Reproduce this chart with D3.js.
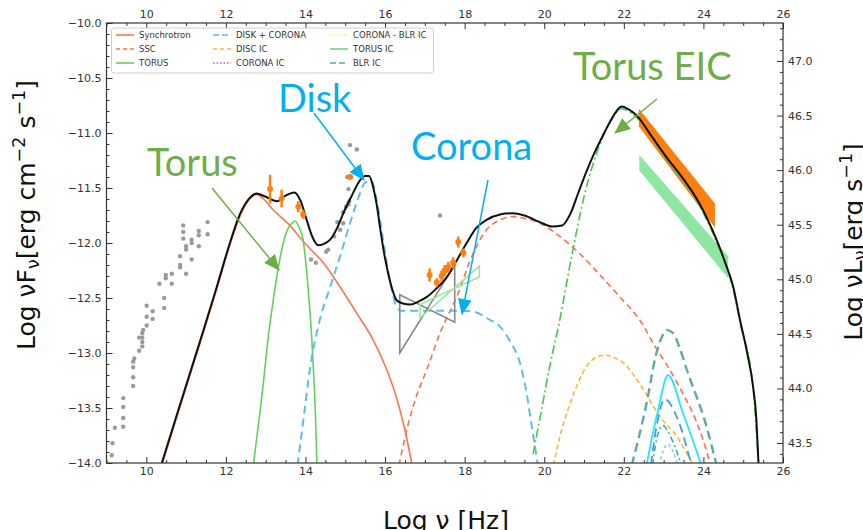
<!DOCTYPE html>
<html>
<head>
<meta charset="utf-8">
<script src="https://cdn.jsdelivr.net/npm/d3@7"></script>
<style>
  body { margin: 0; background: #fff; }
  svg { display: block; }
  text { font-family: "DejaVu Sans", sans-serif; }
</style>
</head>
<body>
<svg id="sed" width="863" height="530"></svg>
<script>
// axis ticks
var xTicks = [10, 12, 14, 16, 18, 20, 22, 24, 26];
var yTicks = [-10, -10.5, -11, -11.5, -12, -12.5, -13, -13.5, -14];
var yRightTicks = [43.5, 44, 44.5, 45, 45.5, 46, 46.5, 47];

// model curves, [log nu, log nuFnu]
var total = [[10.39,-14.0],[10.76,-13.57],[11.1,-13.18],[11.43,-12.8],[11.77,-12.4],[12.1,-12.0],[12.35,-11.74],[12.6,-11.59],[12.77,-11.55],[13.0,-11.58],[13.28,-11.62],[13.5,-11.57],[13.72,-11.54],[13.88,-11.62],[14.03,-11.79],[14.18,-11.95],[14.32,-12.02],[14.45,-12.01],[14.62,-11.97],[14.8,-11.86],[14.95,-11.73],[15.15,-11.58],[15.37,-11.43],[15.5,-11.39],[15.6,-11.39],[15.70,-11.49],[15.79,-11.65],[15.87,-11.85],[15.97,-12.08],[16.08,-12.28],[16.18,-12.42],[16.29,-12.52],[16.45,-12.55],[16.63,-12.56],[16.85,-12.53],[17.05,-12.49],[17.3,-12.41],[17.55,-12.31],[17.8,-12.16],[18.05,-12.0],[18.3,-11.86],[18.55,-11.79],[18.89,-11.74],[19.2,-11.73],[19.5,-11.75],[19.89,-11.81],[20.2,-11.85],[20.45,-11.84],[20.65,-11.74],[20.85,-11.55],[21.05,-11.36],[21.25,-11.19],[21.45,-11.04],[21.65,-10.9],[21.8,-10.81],[21.94,-10.76],[22.1,-10.78],[22.32,-10.84],[22.7,-11.03],[23.07,-11.22],[23.5,-11.42],[23.9,-11.64],[24.33,-11.97],[24.55,-12.18],[24.75,-12.4],[24.92,-12.7],[25.1,-13.0],[25.25,-13.31],[25.33,-13.6],[25.38,-13.97],[25.4,-14.1]];
var synchrotron = [[10.39,-14.02],[10.76,-13.59],[11.1,-13.2],[11.43,-12.82],[11.77,-12.42],[12.1,-12.02],[12.35,-11.76],[12.6,-11.6],[12.77,-11.56],[12.95,-11.6],[13.19,-11.7],[13.4,-11.77],[13.61,-11.84],[13.86,-11.95],[14.03,-12.02],[14.45,-12.18],[14.87,-12.4],[15.29,-12.64],[15.7,-12.88],[16.04,-13.15],[16.3,-13.42],[16.5,-13.7],[16.68,-14.02]];
var ssc = [[16.35,-14.02],[16.6,-13.62],[16.8,-13.38],[17.05,-13.15],[17.38,-12.82],[17.8,-12.49],[18.22,-12.09],[18.55,-11.88],[18.89,-11.79],[19.2,-11.76],[19.55,-11.78],[19.89,-11.82],[20.39,-11.94],[20.9,-12.1],[21.4,-12.29],[21.9,-12.49],[22.4,-12.7],[22.8,-12.95],[23.15,-13.15],[23.5,-13.38],[23.74,-13.55],[24.0,-13.8],[24.18,-14.02]];
var torus = [[12.69,-14.02],[12.8,-13.7],[12.94,-13.28],[13.05,-12.9],[13.19,-12.52],[13.32,-12.22],[13.44,-12.0],[13.56,-11.87],[13.69,-11.81],[13.74,-11.8],[13.84,-11.86],[13.94,-11.97],[14.0,-12.15],[14.07,-12.43],[14.16,-12.88],[14.2,-13.15],[14.25,-13.55],[14.29,-14.02]];
var diskCorona = [[13.8,-14.02],[13.95,-13.6],[14.11,-13.15],[14.36,-12.7],[14.62,-12.4],[14.87,-12.12],[15.12,-11.82],[15.37,-11.55],[15.5,-11.45],[15.66,-11.44],[15.79,-11.61],[15.95,-11.97],[16.12,-12.34],[16.29,-12.58],[16.4,-12.615],[17.0,-12.615],[17.8,-12.615],[18.22,-12.625],[18.64,-12.7],[18.89,-12.76],[19.15,-12.9],[19.39,-13.09],[19.55,-13.35],[19.68,-13.65],[19.84,-14.02]];
var discIC = [[20.23,-14.02],[20.4,-13.75],[20.65,-13.46],[21.07,-13.12],[21.3,-13.04],[21.53,-13.02],[21.75,-13.04],[21.99,-13.09],[22.4,-13.28],[22.91,-13.58],[23.33,-13.76],[23.74,-14.02]];
var torusIC = [[19.72,-13.92],[19.93,-13.52],[20.14,-13.12],[20.39,-12.7],[20.7,-12.1],[21.0,-11.58],[21.3,-11.2],[21.6,-10.94],[21.94,-10.78],[22.32,-10.86],[23.07,-11.24],[23.9,-11.66],[24.33,-11.99],[24.75,-12.43],[24.92,-12.72],[25.25,-13.33],[25.38,-13.98]];
var blrIC = [[22.2,-14.02],[22.57,-13.46],[22.82,-13.0],[22.95,-12.86],[23.07,-12.79],[23.24,-12.82],[23.4,-12.95],[23.58,-13.15],[24.08,-13.67],[24.33,-14.02]];
var blrLine1 = [[22.57,-14.02],[22.86,-13.52],[23.11,-13.2],[23.49,-13.55],[23.95,-14.02]];
var blrLine2 = [[22.68,-14.02],[22.82,-13.67],[23.03,-13.42],[23.33,-13.58],[23.7,-14.02]];
var blrLine3 = [[22.72,-14.02],[22.86,-13.73],[22.98,-13.66],[23.2,-13.78],[23.45,-14.02]];
var blrLine4 = [[22.88,-14.02],[23.1,-13.83],[23.36,-14.02]];

// archival points (grey)
var archival = [[9.13,-13.93],[9.15,-13.82],[9.21,-13.68],[9.42,-13.67],[9.42,-13.59],[9.42,-13.49],[9.42,-13.41],[9.67,-13.3],[9.67,-13.22],[9.67,-13.13],[9.67,-13.08],[9.7,-13.05],[9.82,-12.98],[9.9,-12.94],[9.9,-12.9],[9.9,-12.86],[9.9,-12.82],[9.92,-12.79],[9.82,-12.86],[10.01,-12.75],[10.01,-12.67],[10.01,-12.57],[10.16,-12.69],[10.16,-12.62],[10.33,-12.37],[10.45,-12.59],[10.45,-12.5],[10.49,-12.32],[10.49,-12.29],[10.64,-12.37],[10.64,-12.28],[10.85,-12.22],[10.85,-12.2],[10.85,-12.12],[11.0,-12.28],[11.0,-12.06],[11.0,-12.03],[10.93,-11.96],[10.93,-11.9],[10.93,-11.84],[11.14,-12.15],[11.14,-12.0],[11.14,-11.97],[11.32,-12.03],[11.32,-11.93],[11.32,-11.89],[11.54,-11.92],[11.54,-11.81],[14.14,-12.15],[14.26,-12.18],[14.52,-12.08],[14.57,-12.06],[14.72,-11.94],[14.8,-11.81],[14.87,-11.88],[14.95,-11.82],[14.95,-11.72],[15.02,-11.67],[15.08,-11.65],[15.1,-11.62],[15.08,-11.51],[15.05,-11.4],[15.15,-11.4],[15.12,-11.11],[15.29,-11.15],[17.38,-11.75]];

// simultaneous data, [log nu, log nuFnu, error]
var observed = [[13.11,-11.51,0.13],[13.4,-11.595,0.08],[13.82,-11.67,0.05],[13.94,-11.74,0.04],[15.12,-11.4,0.02],[17.12,-12.29,0.06],[17.3,-12.36,0.04],[17.42,-12.3,0.05],[17.5,-12.25,0.05],[17.59,-12.22,0.05],[17.71,-12.18,0.05],[17.84,-11.99,0.05],[17.97,-12.09,0.04]];

// butterflies: [x0, x1], upper edge, lower edge
var xrayGreyX = [16.37, 17.75], xrayGreyTop = [-12.47, -12.2], xrayGreyBottom = [-13.0, -12.72];
var xrayGreenX = [16.88, 18.37], xrayGreenTop = [-12.56, -12.21], xrayGreenBottom = [-12.68, -12.31];
var gammaOrangeX = [22.38, 24.29], gammaOrangeTop = [-10.78, -11.64], gammaOrangeBottom = [-10.94, -11.86];
var gammaGreenX = [22.39, 24.62], gammaGreenTop = [-11.2, -12.12], gammaGreenBottom = [-11.34, -12.32];

var legendLabels = ["Synchrotron", "SSC", "TORUS", "DISK + CORONA", "DISC IC", "CORONA IC", "CORONA - BLR IC", "TORUS IC", "BLR IC"];

var svg = d3.select("#sed");
var pL = 106.5, pR = 783, pT = 23, pB = 463;

var x = d3.scaleLinear().domain([9, 26]).range([pL, pR]);
var y = d3.scaleLinear().domain([-14, -10]).range([pB, pT]);
var yR = d3.scaleLinear().domain([43.5, 47]).range([443, 61]);

var defs = svg.append("defs");
defs.append("clipPath").attr("id", "plot")
  .append("rect").attr("x", pL).attr("y", pT)
  .attr("width", pR - pL).attr("height", pB - pT);

var plot = svg.append("g").attr("clip-path", "url(#plot)");

var line = d3.line().x(d => x(d[0])).y(d => y(d[1])).curve(d3.curveMonotoneX);

function butterfly(xs, up, lo) {
  return "M" + x(xs[0]) + "," + y(up[0]) + "L" + x(xs[1]) + "," + y(lo[1]) +
    "L" + x(xs[1]) + "," + y(up[1]) + "L" + x(xs[0]) + "," + y(lo[0]) + "Z";
}
function band(xs, up, lo) {
  return "M" + x(xs[0]) + "," + y(up[0]) + "L" + x(xs[1]) + "," + y(up[1]) +
    "L" + x(xs[1]) + "," + y(lo[1]) + "L" + x(xs[0]) + "," + y(lo[0]) + "Z";
}

// grey archival points
plot.selectAll(".arch").data(archival).enter().append("circle")
  .attr("cx", d => x(d[0])).attr("cy", d => y(d[1])).attr("r", 2.2)
  .attr("fill", "#9a9a9a");

// gamma-ray bands
plot.append("path").attr("d", band(gammaGreenX, gammaGreenTop, gammaGreenBottom)).attr("fill", "#8fe6a2");
plot.append("path").attr("d", band(gammaOrangeX, gammaOrangeTop, gammaOrangeBottom)).attr("fill", "#ff7f0e");

// model components
var series = [
  {d: synchrotron, c: "#ff7450", w: 1.6, dash: null},
  {d: ssc, c: "#ff6f4d", w: 1.6, dash: "6,4"},
  {d: torus, c: "#5fd35f", w: 1.6, dash: null},
  {d: diskCorona, c: "#5cbdf3", w: 2, dash: "8,5"},
  {d: discIC, c: "#ffb43c", w: 1.6, dash: "5,3"},
  {d: torusIC, c: "#45c845", w: 1.6, dash: "9,3,2,3"},
  {d: blrLine4, c: "#7ecbe6", w: 1.6, dash: "3,3"},
  {d: blrLine3, c: "#39b0b0", w: 1.6, dash: "6,3,2,3"},
  {d: blrLine2, c: "#3b9ee8", w: 1.8, dash: "9,5"},
  {d: blrLine1, c: "#22e6ff", w: 1.8, dash: null},
  {d: blrIC, c: "#5ea8a8", w: 2.4, dash: "9,5"}
];
plot.selectAll(".comp").data(series).enter().append("path")
  .attr("d", s => line(s.d))
  .attr("fill", "none")
  .attr("stroke", s => s.c)
  .attr("stroke-width", s => s.w)
  .attr("stroke-dasharray", s => s.dash);

// x-ray butterflies
plot.append("path").attr("d", butterfly(xrayGreyX, xrayGreyTop, xrayGreyBottom))
  .attr("fill", "none").attr("stroke", "#888").attr("stroke-width", 1.6);
plot.append("path").attr("d", butterfly(xrayGreenX, xrayGreenTop, xrayGreenBottom))
  .attr("fill", "none").attr("stroke", "#9be6a4").attr("stroke-width", 1.6);

// total
plot.append("path").attr("d", line(total)).attr("fill", "none")
  .attr("stroke", "#111").attr("stroke-width", 2);

// observed points with error bars
var obs = plot.selectAll(".obs").data(observed).enter().append("g");
obs.append("line")
  .attr("x1", d => x(d[0])).attr("x2", d => x(d[0]))
  .attr("y1", d => y(d[1] + d[2])).attr("y2", d => y(d[1] - d[2]))
  .attr("stroke", "#ff7f0e").attr("stroke-width", 2.5);
obs.append("circle")
  .attr("cx", d => x(d[0])).attr("cy", d => y(d[1])).attr("r", 3)
  .attr("fill", "#ff7f0e");

// axes, ticks pointing inwards
function styleAxis(g) {
  g.select(".domain").remove();
  g.selectAll(".tick line").attr("stroke", "#333");
  g.selectAll("text").attr("fill", "#333").style("font-size", "11px");
}
var xMinor = d3.range(9, 26.01, 0.5).filter(v => xTicks.indexOf(v) < 0);
var yMinor = d3.range(-14, -9.99, 0.1).map(v => +v.toFixed(1)).filter(v => yTicks.indexOf(v) < 0);
var yRMinor = d3.range(43.4, 47.35, 0.1).map(v => +v.toFixed(1)).filter(v => yRightTicks.indexOf(v) < 0);

svg.append("g").attr("transform", `translate(0,${pB})`)
  .call(d3.axisBottom(x).tickValues(xTicks).tickSize(-6).tickPadding(4).tickFormat(d3.format("d"))).call(styleAxis);
svg.append("g").attr("transform", `translate(0,${pB})`)
  .call(d3.axisBottom(x).tickValues(xMinor).tickSize(-3).tickFormat("")).call(styleAxis);
svg.append("g").attr("transform", `translate(0,${pT})`)
  .call(d3.axisTop(x).tickValues(xTicks).tickSize(-6).tickPadding(5).tickFormat(d3.format("d"))).call(styleAxis);
svg.append("g").attr("transform", `translate(0,${pT})`)
  .call(d3.axisTop(x).tickValues(xMinor).tickSize(-3).tickFormat("")).call(styleAxis);
svg.append("g").attr("transform", `translate(${pL},0)`)
  .call(d3.axisLeft(y).tickValues(yTicks).tickSize(-6).tickPadding(5).tickFormat(d3.format(".1f"))).call(styleAxis);
svg.append("g").attr("transform", `translate(${pL},0)`)
  .call(d3.axisLeft(y).tickValues(yMinor).tickSize(-3).tickFormat("")).call(styleAxis);
svg.append("g").attr("transform", `translate(${pR},0)`)
  .call(d3.axisRight(yR).tickValues(yRightTicks).tickSize(-6).tickPadding(5).tickFormat(d3.format(".1f"))).call(styleAxis);
svg.append("g").attr("transform", `translate(${pR},0)`)
  .call(d3.axisRight(yR).tickValues(yRMinor.filter(v => yR(v) > pT && yR(v) < pB)).tickSize(-3).tickFormat("")).call(styleAxis);

svg.append("rect").attr("x", pL).attr("y", pT)
  .attr("width", pR - pL).attr("height", pB - pT)
  .attr("fill", "none").attr("stroke", "#333").attr("stroke-width", 1.2);

// legend
var legendStyles = [
  {c: "#ff7450", dash: null}, {c: "#ff6f4d", dash: "4,3"}, {c: "#5fd35f", dash: null},
  {c: "#5cbdf3", dash: "6,3"}, {c: "#ffb43c", dash: "4,3"}, {c: "#a066b8", dash: "1.5,2"},
  {c: "#f2f27a", dash: "1.5,2"}, {c: "#6fd66f", dash: null}, {c: "#5ea8a8", dash: "6,3"}
];
var legend = svg.append("g");
legend.append("rect").attr("x", 111.5).attr("y", 28).attr("width", 322).attr("height", 45)
  .attr("rx", 2.5).attr("fill", "#fff").attr("fill-opacity", 0.8)
  .attr("stroke", "#d0d0d0").attr("stroke-width", 1);
var colX = [116, 213, 330];
legendLabels.forEach(function (lab, i) {
  var cx = colX[Math.floor(i / 3)], cy = 35 + (i % 3) * 14;
  legend.append("line").attr("x1", cx).attr("x2", cx + 18).attr("y1", cy).attr("y2", cy)
    .attr("stroke", legendStyles[i].c).attr("stroke-width", 1.6)
    .attr("stroke-dasharray", legendStyles[i].dash);
  legend.append("text").attr("x", cx + 23).attr("y", cy).attr("dy", "0.35em")
    .style("font-size", "8.5px").attr("fill", "#333").text(lab);
});

// axis titles
function rich(t, parts) {
  parts.forEach(function (p) {
    var s = t.append("tspan").text(p[0]);
    if (p[1] === "sub") s.attr("font-size", "70%").attr("dy", "0.22em");
    if (p[1] === "sup") s.attr("font-size", "70%").attr("dy", "-0.55em");
    if (p[1] === "back-sub") s.attr("dy", "-0.154em");
    if (p[1] === "back-sup") s.attr("dy", "0.385em");
  });
}
var yl = svg.append("text").attr("transform", "translate(35,215) rotate(-90)")
  .attr("text-anchor", "middle").style("font-size", "25px").attr("fill", "#111");
rich(yl, [["Log \u03bdF"], ["\u03bd", "sub"], ["[erg cm", "back-sub"], ["\u22122", "sup"], [" s", "back-sup"], ["\u22121", "sup"], ["]", "back-sup"]]);

var yr = svg.append("text").attr("transform", "translate(862,242) rotate(-90)")
  .attr("text-anchor", "middle").style("font-size", "25px").attr("fill", "#111");
rich(yr, [["Log \u03bdL"], ["\u03bd", "sub"], ["[erg s", "back-sub"], ["\u22121", "sup"], ["]", "back-sup"]]);

svg.append("text").attr("x", 446).attr("y", 529).attr("text-anchor", "middle")
  .style("font-size", "25px").attr("fill", "#111").text("Log \u03bd [Hz]");

// annotations
var green = "#70ad47", blue = "#00b0f0";
[["headG", green], ["headB", blue]].forEach(function (m) {
  defs.append("marker").attr("id", m[0]).attr("markerUnits", "userSpaceOnUse")
    .attr("viewBox", "0 0 16 14").attr("refX", 15).attr("refY", 7)
    .attr("markerWidth", 16).attr("markerHeight", 14).attr("orient", "auto")
    .append("path").attr("d", "M0,0L16,7L0,14Z").attr("fill", m[1]);
});
var notes = [
  {t: "Torus EIC", x: 573, y: 80, c: green, a: [657, 99, 615, 133], m: "headG"},
  {t: "Disk", x: 278, y: 112, c: blue, a: [314, 113, 364, 180], m: "headB"},
  {t: "Corona", x: 411, y: 160, c: blue, a: [488, 180, 462, 314], m: "headB"},
  {t: "Torus", x: 147, y: 176, c: green, a: [212, 188, 279, 270], m: "headG"}
];
notes.forEach(function (n) {
  svg.append("line").attr("x1", n.a[0]).attr("y1", n.a[1]).attr("x2", n.a[2]).attr("y2", n.a[3])
    .attr("stroke", n.c).attr("stroke-width", 1.5).attr("marker-end", "url(#" + n.m + ")");
  svg.append("text").attr("x", n.x).attr("y", n.y).attr("fill", n.c)
    .style("font-family", "Lato, sans-serif").style("font-size", "38px").text(n.t);
});
</script>
</body>
</html>
